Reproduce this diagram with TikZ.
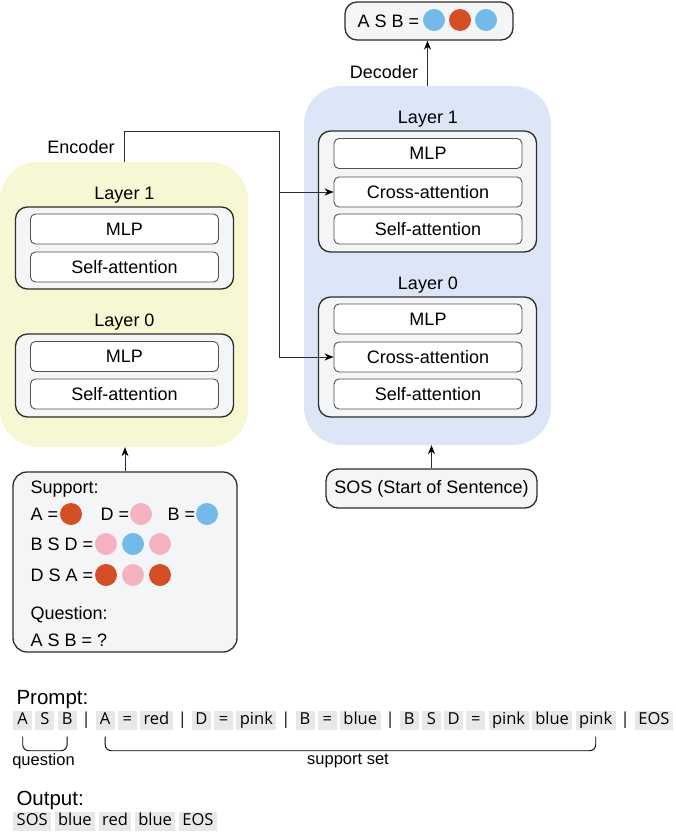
\documentclass[tikz,border=0pt]{standalone}
\usepackage{fontspec}
\setmainfont{Liberation Sans}
\newfontfamily\tokfont{Open Sans}
\usepackage{tikz}
\usetikzlibrary{positioning, arrows.meta}

\definecolor{encyellow}{RGB}{248,247,211}
\definecolor{decblue}{RGB}{221,230,246}
\definecolor{boxgray}{RGB}{244,245,247}
\definecolor{tokgray}{RGB}{232,232,232}
\definecolor{linegray}{RGB}{45,45,45}
\definecolor{blockgray}{RGB}{80,80,80}
\definecolor{dotred}{RGB}{212,78,38}
\definecolor{dotpink}{RGB}{245,178,193}
\definecolor{dotblue}{RGB}{116,186,232}

\tikzset{
  bgbox/.style={rounded corners=38pt, inner sep=0pt},
  layerbox/.style={draw=linegray, line width=1.3pt, fill=boxgray, rounded corners=12pt, minimum width=218pt, inner sep=0pt},
  block/.style={draw=blockgray, line width=0.9pt, fill=white, rounded corners=5pt, minimum width=188pt, minimum height=30pt, inner sep=0pt},
  dot/.style={circle, minimum size=22pt, inner sep=0pt},
  tok/.style={fill=tokgray, font=\tokfont\fontsize{16.5}{19}\selectfont, inner xsep=3.5pt, inner ysep=1.5pt, text height=12pt, text depth=4pt, minimum width=19pt},
  tokbar/.style={tok, fill=none, inner xsep=1.8pt, minimum width=0pt},
  link/.style={draw=linegray, line width=0.9pt},
  arr/.style={link, -{Stealth[length=9pt, width=7pt, color=black]}},
  brace/.style={draw=black, line width=0.9pt, rounded corners=6pt},
  heading/.style={anchor=base west, font=\fontsize{20.5}{24}\selectfont},
}

\begin{document}
\begin{tikzpicture}[x=1pt, y=-1pt, font=\fontsize{18}{21}\selectfont]
  \useasboundingbox (0,0) rectangle (675,833);

  % backgrounds
  \node[bgbox, fill=encyellow, minimum width=248pt, minimum height=285pt] (enc) at (124,304.5) {};
  \node[bgbox, fill=decblue, minimum width=247pt, minimum height=359pt] (dec) at (427.5,265.5) {};

  % encoder layers
  \node[anchor=base] (elab1) at (124.5,199.5) {Layer 1};
  \node[layerbox, minimum height=82pt] (el1) at (124.5,248) {};
  \node[block] (emlp1) at (124.5,229) {MLP};
  \node[block] (eself1) at (124.5,267) {Self-attention};
  \node[anchor=base] (elab0) at (124.5,326.5) {Layer 0};
  \node[layerbox, minimum height=83pt] (el0) at (124.5,375.5) {};
  \node[block] (emlp0) at (124.5,356.5) {MLP};
  \node[block] (eself0) at (124.5,394) {Self-attention};
  \node (enclab) at (81,147) {Encoder};

  % decoder layers
  \node[anchor=base] (dlab1) at (428,123.5) {Layer 1};
  \node[layerbox, minimum height=121pt] (dl1) at (427.5,191.5) {};
  \node[block] (dmlp1) at (428,153.5) {MLP};
  \node[block] (dcross1) at (428,192) {Cross-attention};
  \node[block] (dself1) at (428,229) {Self-attention};
  \node[anchor=base] (dlab0) at (428,289.5) {Layer 0};
  \node[layerbox, minimum height=120pt] (dl0) at (427.5,357) {};
  \node[block] (dmlp0) at (428,319) {MLP};
  \node[block] (dcross0) at (428,357) {Cross-attention};
  \node[block] (dself0) at (428,394) {Self-attention};
  \node (declab) at (384,72) {Decoder};

  % decoder output
  \node[layerbox, minimum width=168pt, minimum height=38pt] (outbox) at (429,21) {};
  \node[anchor=west] (outtxt) at (354,21) {A S B =};
  \node[dot, fill=dotblue] (out1) at (434,20) {};
  \node[dot, fill=dotred] (out2) at (460,20) {};
  \node[dot, fill=dotblue] (out3) at (486,20) {};

  % start token
  \node[layerbox, minimum width=211pt, minimum height=39pt] (sos) at (431.5,488.5) {SOS (Start of Sentence)};

  % support box
  \node[layerbox, minimum width=224pt, minimum height=180pt, rounded corners=14pt] (sup) at (125,562) {};
  \node[anchor=base west] (suptxt) at (27,493) {Support:};
  \node[anchor=base west] (rowa) at (27,520) {A =};
  \node[dot, fill=dotred] (da) at (71,514) {};
  \node[anchor=base west] (rowd) at (97,520) {D =};
  \node[dot, fill=dotpink] (dd) at (141,514) {};
  \node[anchor=base west] (rowb) at (164,520) {B =};
  \node[dot, fill=dotblue] (db) at (207,514) {};
  \node[anchor=base west] (rowbsd) at (27,550) {B S D =};
  \foreach \c [count=\i] in {dotpink,dotblue,dotpink}
    \node[dot, fill=\c] (bsd\i) at (79+27*\i,544) {};
  \node[anchor=base west] (rowdsa) at (27,581) {D S A =};
  \foreach \c [count=\i] in {dotred,dotpink,dotred}
    \node[dot, fill=\c] (dsa\i) at (79+27*\i,575) {};
  \node[anchor=base west] (qtxt) at (27,619) {Question:};
  \node[anchor=base west] (qrow) at (27,646) {A S B = ?};

  % connectors
  \coordinate (bend) at (279,131);
  \draw[arr] (enc.north) |- (bend) |- (dcross0.west);
  \draw[arr] (bend |- dcross1.west) -- (dcross1.west);
  \draw[arr] (sup.north) -- (sup.north |- enc.south);
  \draw[arr] (sos.north) -- (sos.north |- dec.south);
  \draw[arr] (dec.north) -- (dec.north |- outbox.south);

  % prompt tokens
  \node[heading] (prompt) at (13,704) {Prompt:};
  \node[tok, anchor=west] (p1) at (13,720) {A};
  \foreach \t/\s [count=\i from 2] in {S/tok,B/tok,|/tokbar,A/tok,=/tok,red/tok,|/tokbar,D/tok,=/tok,pink/tok,|/tokbar,B/tok,=/tok,blue/tok,|/tokbar,B/tok,S/tok,D/tok,=/tok,pink/tok,blue/tok,pink/tok,|/tokbar,EOS/tok}{
    \pgfmathtruncatemacro\j{\i-1}
    \node[\s, right=2.8pt of p\j] (p\i) {\t};
  }

  % braces
  \draw[brace] ([yshift=-7pt]p1.south) |- ([yshift=-21pt]p3.south) -- ([yshift=-7pt]p3.south);
  \draw[brace] ([yshift=-7pt]p5.south) |- ([yshift=-21pt]p23.south) -- ([yshift=-7pt]p23.south);
  \node[font=\fontsize{16.5}{19}\selectfont] (qlab) at (43.5,761) {question};
  \node[font=\fontsize{16.5}{19}\selectfont] (slab) at (348,761) {support set};

  % output tokens
  \node[heading] (output) at (13,805) {Output:};
  \node[tok, anchor=west] (o1) at (13,821) {SOS};
  \foreach \t [count=\i from 2] in {blue,red,blue,EOS}{
    \pgfmathtruncatemacro\j{\i-1}
    \node[tok, right=3pt of o\j] (o\i) {\t};
  }
\end{tikzpicture}
\end{document}
